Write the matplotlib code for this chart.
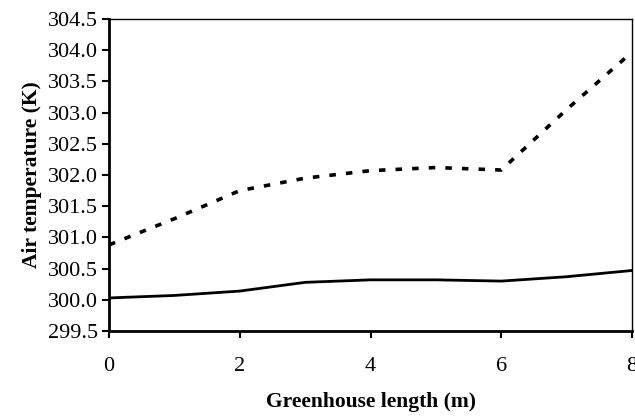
import numpy as np
import matplotlib.pyplot as plt

plt.rcParams['font.family'] = ['Liberation Serif', 'DejaVu Serif']

length = np.array([0, 1, 2, 3, 4, 5, 6, 7, 8])
temp_solid = np.array([300.03, 300.07, 300.14, 300.28, 300.32, 300.32, 300.30, 300.37, 300.47])
temp_dotted = np.array([300.88, 301.30, 301.75, 301.95, 302.07, 302.12, 302.08, 303.05, 303.97])

fig = plt.figure(figsize=(6.35, 4.17), dpi=100)
ax = fig.add_axes([0.1717, 0.2062, 0.8236, 0.7482])

ax.plot(length, temp_solid, color='black', lw=2.0)
ax.plot(length, temp_dotted, color='black', lw=2.6, linestyle=(0, (1.8, 2.8)))

ax.set_xlim(0, 8)
ax.set_ylim(299.5, 304.5)
ax.set_xticks([0, 2, 4, 6, 8])
ax.set_yticks(np.arange(299.5, 304.51, 0.5))
ax.set_yticklabels([f'{v:.1f}' for v in np.arange(299.5, 304.51, 0.5)])
ax.tick_params(direction='out', length=5, width=1.5, labelsize=16, colors='black')
ax.tick_params(axis='y', pad=3)
ax.tick_params(axis='x', pad=14)

for s in ['left', 'bottom']:
    ax.spines[s].set_linewidth(2.0)
for s in ['top', 'right']:
    ax.spines[s].set_linewidth(1.0)

ax.set_xlabel('Greenhouse length (m)', fontsize=15.5, fontweight='bold', labelpad=11)
ax.set_ylabel('Air temperature (K)', fontsize=15.5, fontweight='bold', labelpad=4)

fig.savefig('out.png', dpi=100)
